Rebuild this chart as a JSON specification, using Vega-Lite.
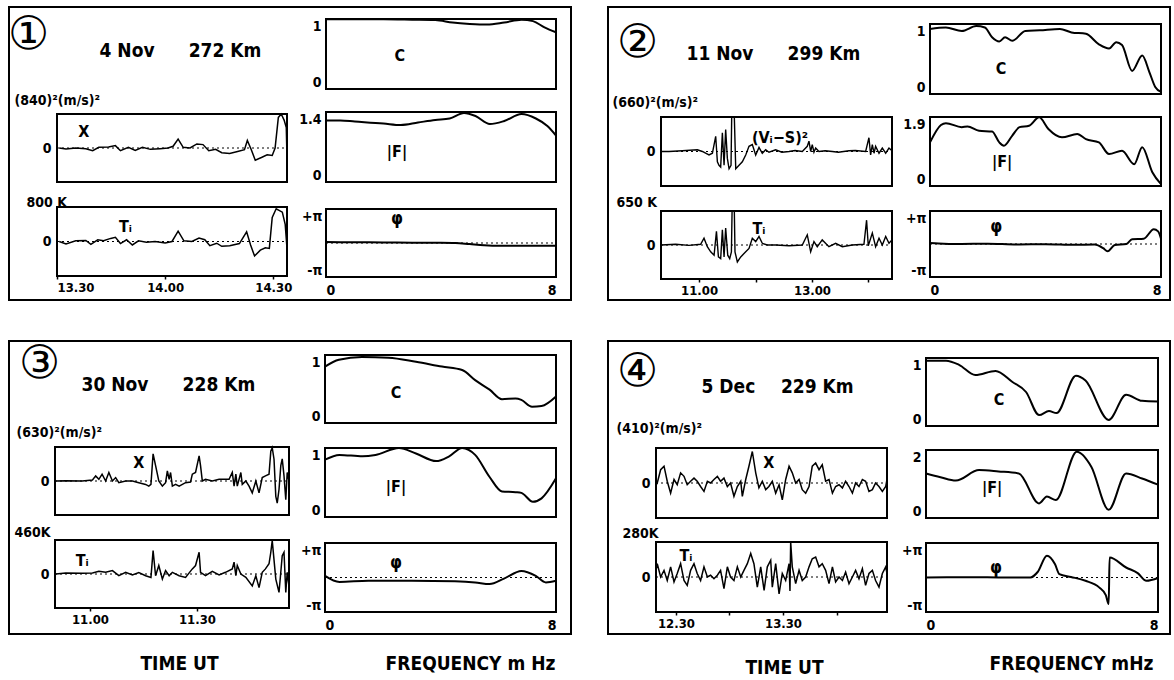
{
"$schema": "https://vega.github.io/schema/vega-lite/v6.json",
"background": "white",
"padding": {"left": 6, "top": 6, "right": 0, "bottom": 0},
"spacing": 38,
"config": {
 "view": {"stroke": "black", "strokeWidth": 2},
 "font": "DejaVu Sans",
 "axis": {"grid": false, "domain": false, "ticks": false, "labelColor": "black", "labelFont": "DejaVu Sans Condensed, DejaVu Sans", "labelFontWeight": "bold", "labelFontSize": 14, "titleColor": "black", "titleFont": "DejaVu Sans Condensed, DejaVu Sans", "titleFontWeight": "bold", "titleFontSize": 14, "tickColor": "black", "tickWidth": 1.5},
 "text": {"font": "DejaVu Sans Condensed, DejaVu Sans", "color": "black"}
},
"datasets": {
 "p1x": [{"t":810.6,"v":0},{"t":812.5,"v":-0.03},{"t":815.2,"v":0},{"t":818.0,"v":-0.02},{"t":819.9,"v":-0.08},{"t":821.6,"v":0.02},{"t":824.3,"v":0.03},{"t":826.2,"v":0.07},{"t":827.6,"v":-0.08},{"t":829.8,"v":0.02},{"t":831.7,"v":-0.07},{"t":833.7,"v":0.02},{"t":835.9,"v":-0.04},{"t":838.6,"v":-0.02},{"t":840.8,"v":0},{"t":842.2,"v":0.05},{"t":843.6,"v":0.26},{"t":845.0,"v":0.02},{"t":846.9,"v":0},{"t":848.8,"v":0.12},{"t":850.5,"v":0.1},{"t":852.1,"v":-0.08},{"t":854.0,"v":-0.04},{"t":855.7,"v":-0.14},{"t":857.9,"v":-0.16},{"t":860.1,"v":-0.1},{"t":862.0,"v":-0.05},{"t":862.8,"v":0.22},{"t":863.9,"v":-0.05},{"t":865.0,"v":-0.36},{"t":866.7,"v":-0.28},{"t":868.3,"v":-0.2},{"t":869.7,"v":-0.22},{"t":870.5,"v":0},{"t":871.4,"v":0.9},{"t":872.2,"v":1.0},{"t":873.0,"v":0.82},{"t":873.6,"v":0.6},{"t":873.8,"v":-0.3}],
 "p1t": [{"t":810.6,"v":0},{"t":812.5,"v":-0.07},{"t":815.2,"v":0.02},{"t":818.0,"v":0.03},{"t":819.4,"v":-0.08},{"t":821.3,"v":0.05},{"t":822.9,"v":0.02},{"t":824.9,"v":0.09},{"t":826.2,"v":0.12},{"t":827.6,"v":-0.06},{"t":829.3,"v":0.05},{"t":830.9,"v":-0.1},{"t":832.6,"v":0.02},{"t":834.8,"v":-0.02},{"t":837.2,"v":0},{"t":840.0,"v":-0.04},{"t":841.9,"v":0},{"t":843.6,"v":0.3},{"t":845.2,"v":0.02},{"t":847.4,"v":0},{"t":849.4,"v":0.1},{"t":851.0,"v":0.05},{"t":852.4,"v":-0.12},{"t":854.3,"v":-0.05},{"t":855.7,"v":-0.14},{"t":857.9,"v":-0.12},{"t":860.6,"v":-0.06},{"t":862.6,"v":0.28},{"t":863.7,"v":-0.1},{"t":864.8,"v":-0.42},{"t":866.4,"v":-0.25},{"t":867.8,"v":-0.18},{"t":868.9,"v":-0.2},{"t":869.7,"v":0.7},{"t":870.8,"v":0.95},{"t":872.5,"v":0.85},{"t":873.3,"v":0.5},{"t":873.8,"v":-0.2}],
 "p1c": [{"f":0,"v":0.995},{"f":1,"v":0.995},{"f":2,"v":0.995},{"f":3,"v":0.99},{"f":3.8,"v":0.985},{"f":4.4,"v":0.95},{"f":5.0,"v":0.93},{"f":5.6,"v":0.92},{"f":6.2,"v":0.95},{"f":6.8,"v":0.99},{"f":7.2,"v":0.97},{"f":7.6,"v":0.88},{"f":8,"v":0.81}],
 "p1f": [{"f":0,"v":1.23},{"f":0.5,"v":1.23},{"f":1,"v":1.21},{"f":2,"v":1.17},{"f":2.6,"v":1.14},{"f":3.2,"v":1.19},{"f":3.8,"v":1.24},{"f":4.3,"v":1.27},{"f":4.8,"v":1.38},{"f":5.2,"v":1.32},{"f":5.7,"v":1.16},{"f":6.2,"v":1.22},{"f":6.8,"v":1.36},{"f":7.3,"v":1.27},{"f":7.7,"v":1.12},{"f":8,"v":0.93}],
 "p1p": [{"f":0,"v":0.09},{"f":1,"v":0.07},{"f":2,"v":0.05},{"f":3,"v":0.03},{"f":4,"v":0.02},{"f":4.5,"v":0},{"f":5,"v":-0.1},{"f":5.5,"v":-0.2},{"f":6,"v":-0.25},{"f":6.5,"v":-0.25},{"f":7,"v":-0.25},{"f":8,"v":-0.25}],
 "p2x": [{"t":619.6,"v":0},{"t":628.1,"v":0},{"t":642.2,"v":0.02},{"t":658.2,"v":0.05},{"t":663.5,"v":0},{"t":670.6,"v":-0.1},{"t":674.2,"v":-0.05},{"t":677.7,"v":0.44},{"t":679.5,"v":-0.3},{"t":681.2,"v":-0.4},{"t":683.0,"v":-0.45},{"t":684.8,"v":0.54},{"t":686.6,"v":-0.4},{"t":688.3,"v":0.64},{"t":690.1,"v":-0.2},{"t":691.9,"v":-0.5},{"t":694.0,"v":-0.4},{"t":694.7,"v":1.0},{"t":697.5,"v":1.0},{"t":699.0,"v":-0.5},{"t":702.5,"v":-0.4},{"t":706.0,"v":-0.3},{"t":709.6,"v":-0.1},{"t":713.1,"v":0.15},{"t":716.6,"v":0.2},{"t":720.2,"v":-0.1},{"t":723.7,"v":0.12},{"t":727.2,"v":-0.05},{"t":730.8,"v":0.05},{"t":734.3,"v":-0.02},{"t":741.4,"v":0.05},{"t":748.0,"v":-0.02},{"t":755.6,"v":0},{"t":762.0,"v":0.03},{"t":769.7,"v":0},{"t":775.0,"v":0.15},{"t":776.8,"v":0.3},{"t":778.6,"v":0},{"t":780.3,"v":0.2},{"t":782.1,"v":-0.02},{"t":783.9,"v":0.1},{"t":787.4,"v":0},{"t":794.0,"v":0.02},{"t":801.6,"v":0},{"t":808.0,"v":-0.02},{"t":819.3,"v":0.02},{"t":826.0,"v":0.03},{"t":837.0,"v":0},{"t":840.5,"v":0.4},{"t":842.3,"v":-0.1},{"t":844.1,"v":0.2},{"t":845.9,"v":-0.05},{"t":847.6,"v":0.15},{"t":851.2,"v":-0.05},{"t":854.7,"v":0.1},{"t":858.3,"v":-0.05},{"t":861.8,"v":0.1},{"t":865.0,"v":0.02}],
 "p2t": [{"t":619.6,"v":0},{"t":635.2,"v":0.02},{"t":649.3,"v":-0.01},{"t":661.7,"v":0.02},{"t":665.3,"v":0.2},{"t":668.8,"v":-0.05},{"t":672.4,"v":-0.2},{"t":676.0,"v":-0.3},{"t":678.5,"v":0.4},{"t":680.6,"v":-0.35},{"t":683.0,"v":-0.4},{"t":684.8,"v":0.45},{"t":686.6,"v":-0.35},{"t":688.3,"v":0.5},{"t":690.5,"v":-0.3},{"t":692.6,"v":-0.4},{"t":694.4,"v":-0.2},{"t":695.1,"v":1.0},{"t":697.5,"v":1.0},{"t":698.2,"v":-0.2},{"t":700.7,"v":-0.5},{"t":704.3,"v":-0.35},{"t":709.6,"v":-0.2},{"t":713.1,"v":-0.1},{"t":716.6,"v":0.2},{"t":720.2,"v":0.1},{"t":723.7,"v":0.25},{"t":727.2,"v":0.05},{"t":732.5,"v":0},{"t":741.4,"v":0},{"t":755.6,"v":-0.02},{"t":769.7,"v":0},{"t":775.0,"v":0.3},{"t":778.6,"v":-0.2},{"t":782.1,"v":0.1},{"t":785.6,"v":-0.05},{"t":790.9,"v":0.15},{"t":798.0,"v":-0.05},{"t":805.1,"v":0.05},{"t":812.2,"v":-0.05},{"t":822.8,"v":0},{"t":835.2,"v":0.02},{"t":838.0,"v":0.73},{"t":839.8,"v":-0.02},{"t":844.1,"v":0.35},{"t":847.6,"v":-0.05},{"t":851.2,"v":0.2},{"t":854.7,"v":0},{"t":858.3,"v":0.25},{"t":861.8,"v":0.05},{"t":865.0,"v":0.15}],
 "p2c": [{"f":0,"v":0.93},{"f":0.55,"v":0.95},{"f":1.1,"v":0.9},{"f":1.6,"v":0.97},{"f":1.9,"v":0.95},{"f":2.15,"v":0.81},{"f":2.4,"v":0.75},{"f":2.6,"v":0.81},{"f":2.85,"v":0.76},{"f":3.3,"v":0.9},{"f":3.8,"v":0.91},{"f":4.5,"v":0.93},{"f":4.9,"v":0.88},{"f":5.4,"v":0.86},{"f":5.85,"v":0.71},{"f":6.2,"v":0.65},{"f":6.45,"v":0.74},{"f":6.65,"v":0.7},{"f":7.0,"v":0.33},{"f":7.35,"v":0.55},{"f":7.6,"v":0.31},{"f":7.8,"v":0.1},{"f":8,"v":0.03}],
 "p2f": [{"f":0,"v":1.2},{"f":0.38,"v":1.68},{"f":0.55,"v":1.73},{"f":1.1,"v":1.62},{"f":1.3,"v":1.64},{"f":1.7,"v":1.52},{"f":2.15,"v":1.5},{"f":2.4,"v":1.2},{"f":2.56,"v":1.11},{"f":2.85,"v":1.39},{"f":3.1,"v":1.62},{"f":3.43,"v":1.66},{"f":3.78,"v":1.89},{"f":4.1,"v":1.57},{"f":4.57,"v":1.34},{"f":5.1,"v":1.43},{"f":5.4,"v":1.29},{"f":5.85,"v":1.2},{"f":6.2,"v":0.88},{"f":6.65,"v":0.97},{"f":7.07,"v":0.6},{"f":7.35,"v":1.07},{"f":7.7,"v":0.38},{"f":8,"v":0.05}],
 "p2p": [{"f":0,"v":0.1},{"f":0.3,"v":0.05},{"f":1,"v":0},{"f":2,"v":0.03},{"f":3,"v":-0.05},{"f":4,"v":-0.02},{"f":5,"v":-0.08},{"f":5.7,"v":-0.05},{"f":6.0,"v":-0.4},{"f":6.15,"v":-0.7},{"f":6.4,"v":-0.1},{"f":6.8,"v":0},{"f":7.0,"v":0.45},{"f":7.4,"v":0.5},{"f":7.75,"v":1.4},{"f":7.9,"v":1.2},{"f":8,"v":0.5}],
 "p3x": [{"t":650.4,"v":0},{"t":653.2,"v":0.01},{"t":657.8,"v":0},{"t":660.7,"v":0.03},{"t":661.6,"v":0.15},{"t":662.5,"v":0.05},{"t":663.4,"v":0.2},{"t":664.4,"v":0},{"t":665.3,"v":0.25},{"t":666.3,"v":0},{"t":667.2,"v":0.1},{"t":668.1,"v":-0.05},{"t":670.0,"v":0},{"t":671.9,"v":0},{"t":673.7,"v":-0.05},{"t":675.6,"v":-0.1},{"t":676.5,"v":-0.15},{"t":677.1,"v":-0.1},{"t":677.7,"v":0.8},{"t":678.4,"v":0.45},{"t":679.3,"v":0},{"t":680.3,"v":-0.15},{"t":681.2,"v":-0.05},{"t":681.7,"v":0.3},{"t":682.2,"v":0.05},{"t":682.6,"v":0.25},{"t":683.1,"v":-0.15},{"t":684.0,"v":-0.1},{"t":685.0,"v":-0.15},{"t":686.8,"v":-0.05},{"t":688.2,"v":-0.03},{"t":688.7,"v":0.2},{"t":689.6,"v":0.25},{"t":690.6,"v":0.74},{"t":691.0,"v":0.45},{"t":691.5,"v":0},{"t":692.4,"v":0.05},{"t":694.3,"v":0},{"t":696.2,"v":0.05},{"t":698.0,"v":0.05},{"t":699.0,"v":0.05},{"t":699.9,"v":0.25},{"t":700.4,"v":-0.15},{"t":700.9,"v":0.2},{"t":701.3,"v":-0.15},{"t":702.3,"v":0.25},{"t":702.7,"v":-0.1},{"t":703.7,"v":0},{"t":704.6,"v":-0.15},{"t":705.5,"v":-0.35},{"t":706.5,"v":0},{"t":707.4,"v":-0.35},{"t":708.3,"v":0.1},{"t":709.2,"v":0.15},{"t":710.2,"v":0.2},{"t":710.7,"v":0.88},{"t":711.1,"v":0.98},{"t":711.6,"v":0.64},{"t":712.1,"v":-0.45},{"t":712.5,"v":-0.65},{"t":713.0,"v":-0.25},{"t":713.5,"v":0.45},{"t":713.9,"v":0.65},{"t":714.4,"v":0.15},{"t":714.9,"v":-0.55},{"t":715.3,"v":0.25},{"t":715.8,"v":0}],
 "p3t": [{"t":650.4,"v":0},{"t":653.2,"v":0.03},{"t":657.8,"v":0.02},{"t":660.7,"v":0.03},{"t":662.5,"v":0.08},{"t":664.4,"v":0.05},{"t":666.3,"v":0.1},{"t":668.1,"v":-0.05},{"t":670.0,"v":0.05},{"t":671.9,"v":-0.03},{"t":673.7,"v":0.04},{"t":675.6,"v":-0.05},{"t":677.1,"v":-0.1},{"t":677.7,"v":0.69},{"t":678.4,"v":-0.05},{"t":679.3,"v":0.25},{"t":680.3,"v":-0.15},{"t":681.2,"v":0.1},{"t":682.2,"v":-0.05},{"t":683.1,"v":0.05},{"t":685.0,"v":-0.05},{"t":686.8,"v":-0.1},{"t":688.7,"v":0.15},{"t":689.6,"v":0.25},{"t":690.6,"v":0.64},{"t":691.0,"v":0.05},{"t":692.4,"v":-0.05},{"t":694.3,"v":0.08},{"t":696.2,"v":-0.03},{"t":698.0,"v":0.05},{"t":699.9,"v":0.15},{"t":700.4,"v":0.35},{"t":700.9,"v":-0.05},{"t":701.3,"v":0.25},{"t":702.3,"v":0},{"t":703.7,"v":-0.1},{"t":705.5,"v":-0.35},{"t":706.5,"v":-0.05},{"t":707.4,"v":-0.4},{"t":708.3,"v":0.05},{"t":709.2,"v":0.15},{"t":710.2,"v":0.3},{"t":710.7,"v":0.64},{"t":711.1,"v":0.98},{"t":712.1,"v":-0.15},{"t":713.0,"v":-0.54},{"t":713.5,"v":0.05},{"t":713.9,"v":0.54},{"t":714.4,"v":0.64},{"t":714.9,"v":-0.54},{"t":715.3,"v":0.05},{"t":715.8,"v":-0.35}],
 "p3c": [{"f":0,"v":0.83},{"f":0.48,"v":0.93},{"f":1.28,"v":0.97},{"f":2.2,"v":0.96},{"f":3.15,"v":0.9},{"f":4.05,"v":0.83},{"f":4.75,"v":0.78},{"f":5.2,"v":0.63},{"f":5.7,"v":0.49},{"f":6.13,"v":0.35},{"f":6.6,"v":0.36},{"f":6.8,"v":0.34},{"f":7.17,"v":0.24},{"f":7.5,"v":0.25},{"f":8,"v":0.39}],
 "p3f": [{"f":0,"v":0.83},{"f":0.5,"v":0.9},{"f":1.3,"v":0.88},{"f":1.75,"v":0.9},{"f":2.56,"v":1.0},{"f":3.15,"v":0.92},{"f":3.85,"v":0.81},{"f":4.3,"v":0.88},{"f":4.75,"v":1.0},{"f":5.2,"v":0.9},{"f":5.7,"v":0.58},{"f":6.13,"v":0.37},{"f":6.6,"v":0.36},{"f":6.8,"v":0.35},{"f":7.2,"v":0.22},{"f":7.5,"v":0.27},{"f":8,"v":0.56}],
 "p3p": [{"f":0,"v":0.15},{"f":0.5,"v":-0.4},{"f":1.5,"v":-0.3},{"f":3,"v":-0.3},{"f":4.5,"v":-0.35},{"f":5.2,"v":-0.45},{"f":5.7,"v":-0.6},{"f":6.2,"v":-0.1},{"f":6.8,"v":0.6},{"f":7.3,"v":0.15},{"f":7.65,"v":-0.45},{"f":8,"v":-0.3}],
 "p4x": [{"t":738.8,"v":0.05},{"t":739.5,"v":0},{"t":741.4,"v":0.38},{"t":743.3,"v":0.48},{"t":745.1,"v":0.05},{"t":747.0,"v":-0.29},{"t":748.9,"v":0.1},{"t":750.7,"v":-0.05},{"t":752.6,"v":0.29},{"t":754.5,"v":0.19},{"t":756.3,"v":-0.05},{"t":758.2,"v":0.05},{"t":760.1,"v":0.14},{"t":761.9,"v":0.05},{"t":763.8,"v":-0.1},{"t":765.7,"v":-0.24},{"t":767.6,"v":0.05},{"t":769.4,"v":0},{"t":771.3,"v":0.1},{"t":773.2,"v":0.19},{"t":775.0,"v":0.05},{"t":776.9,"v":0.14},{"t":778.8,"v":-0.1},{"t":780.6,"v":0},{"t":782.5,"v":-0.38},{"t":784.4,"v":-0.1},{"t":786.3,"v":0.05},{"t":787.2,"v":-0.38},{"t":789.1,"v":0.1},{"t":790.9,"v":0.48},{"t":792.8,"v":0.9},{"t":794.7,"v":0.29},{"t":796.5,"v":-0.14},{"t":798.4,"v":0.05},{"t":800.3,"v":-0.19},{"t":802.1,"v":-0.1},{"t":804.0,"v":0.05},{"t":805.9,"v":-0.29},{"t":807.8,"v":-0.05},{"t":809.6,"v":-0.48},{"t":811.5,"v":0.1},{"t":813.4,"v":0.48},{"t":815.2,"v":0.29},{"t":817.1,"v":0},{"t":819.0,"v":0.1},{"t":820.8,"v":-0.19},{"t":822.7,"v":-0.29},{"t":824.6,"v":-0.1},{"t":826.4,"v":0.48},{"t":828.3,"v":0.57},{"t":830.2,"v":0.38},{"t":832.0,"v":0.52},{"t":833.9,"v":0.05},{"t":835.8,"v":0.1},{"t":837.7,"v":-0.29},{"t":839.5,"v":-0.1},{"t":841.4,"v":-0.05},{"t":843.3,"v":-0.14},{"t":845.1,"v":0.05},{"t":847.0,"v":-0.1},{"t":848.9,"v":-0.29},{"t":850.7,"v":0},{"t":852.6,"v":-0.1},{"t":854.5,"v":0.1},{"t":856.3,"v":0.05},{"t":858.2,"v":-0.24},{"t":860.1,"v":-0.19},{"t":861.9,"v":0},{"t":863.8,"v":-0.1},{"t":865.7,"v":-0.24},{"t":867.6,"v":-0.1},{"t":868.3,"v":0.1}],
 "p4t": [{"t":738.8,"v":0.2},{"t":739.5,"v":0.38},{"t":741.4,"v":0},{"t":743.3,"v":0.19},{"t":745.1,"v":-0.1},{"t":747.0,"v":0.29},{"t":748.9,"v":-0.14},{"t":750.7,"v":0.1},{"t":752.6,"v":0.38},{"t":754.5,"v":-0.1},{"t":756.3,"v":-0.24},{"t":758.2,"v":0.19},{"t":760.1,"v":0.38},{"t":761.9,"v":0.1},{"t":763.8,"v":-0.1},{"t":765.7,"v":0.29},{"t":767.6,"v":0},{"t":769.4,"v":0.05},{"t":771.3,"v":-0.05},{"t":773.2,"v":0.05},{"t":775.0,"v":0.19},{"t":776.9,"v":-0.33},{"t":778.8,"v":0.29},{"t":780.6,"v":0},{"t":782.5,"v":-0.1},{"t":784.4,"v":0.29},{"t":786.3,"v":0},{"t":788.1,"v":0.19},{"t":790.0,"v":0.38},{"t":791.9,"v":0.67},{"t":793.7,"v":0.38},{"t":795.6,"v":-0.29},{"t":797.5,"v":0.29},{"t":799.4,"v":-0.38},{"t":801.2,"v":0.29},{"t":803.1,"v":0.48},{"t":804.0,"v":-0.29},{"t":805.9,"v":0.38},{"t":807.8,"v":-0.48},{"t":809.6,"v":0.1},{"t":811.5,"v":-0.1},{"t":813.4,"v":0.38},{"t":813.9,"v":-0.4},{"t":814.3,"v":1.0},{"t":815.2,"v":0.29},{"t":817.1,"v":-0.19},{"t":819.0,"v":0.19},{"t":820.8,"v":-0.1},{"t":822.7,"v":0},{"t":824.6,"v":0.29},{"t":826.4,"v":0.52},{"t":828.3,"v":0.57},{"t":830.2,"v":0.29},{"t":832.0,"v":0.38},{"t":833.9,"v":0.19},{"t":835.8,"v":-0.19},{"t":837.7,"v":0.29},{"t":839.5,"v":-0.14},{"t":841.4,"v":0},{"t":843.3,"v":-0.1},{"t":845.1,"v":0.14},{"t":847.0,"v":-0.19},{"t":848.9,"v":0},{"t":850.7,"v":0.19},{"t":852.6,"v":-0.05},{"t":854.5,"v":0.24},{"t":856.3,"v":-0.24},{"t":858.2,"v":0.1},{"t":860.1,"v":0.19},{"t":861.9,"v":-0.1},{"t":863.8,"v":-0.29},{"t":865.7,"v":0.1},{"t":867.6,"v":0.29},{"t":868.3,"v":0.1}],
 "p4c": [{"f":0,"v":0.96},{"f":0.69,"v":0.96},{"f":1.14,"v":0.9},{"f":1.7,"v":0.75},{"f":2.4,"v":0.81},{"f":2.97,"v":0.65},{"f":3.45,"v":0.5},{"f":3.9,"v":0.16},{"f":4.24,"v":0.22},{"f":4.5,"v":0.19},{"f":5.17,"v":0.74},{"f":5.5,"v":0.67},{"f":6.3,"v":0.09},{"f":6.9,"v":0.46},{"f":7.45,"v":0.37},{"f":8,"v":0.36}],
 "p4f": [{"f":0,"v":1.31},{"f":0.5,"v":1.2},{"f":1.03,"v":1.1},{"f":1.83,"v":1.41},{"f":2.5,"v":1.37},{"f":3.2,"v":1.31},{"f":3.9,"v":0.43},{"f":4.17,"v":0.63},{"f":4.48,"v":0.53},{"f":5.2,"v":1.95},{"f":5.7,"v":1.51},{"f":6.3,"v":0.24},{"f":6.9,"v":1.31},{"f":7.45,"v":1.16},{"f":8,"v":0.98}],
 "p4p": [{"f":0,"v":0},{"f":1,"v":0.02},{"f":2,"v":0.02},{"f":3,"v":0},{"f":3.6,"v":0},{"f":3.85,"v":0.5},{"f":4.17,"v":1.98},{"f":4.45,"v":1.2},{"f":4.6,"v":0.3},{"f":5.0,"v":0.05},{"f":5.5,"v":-0.3},{"f":5.97,"v":-0.9},{"f":6.2,"v":-1.6},{"f":6.3,"v":-2.42},{"f":6.33,"v":1.82},{"f":6.9,"v":0.91},{"f":7.3,"v":0.4},{"f":7.6,"v":-0.3},{"f":8,"v":-0.05}]
},
"vconcat": [
{"spacing": 35, "hconcat": [
{
 "width": 562, "height": 293,
 "data": {"values": [{}]},
 "resolve": {"scale": {"x": "independent", "y": "independent"}},
 "layer": [
  {"layer": [
   {"data": {"name": "p1x"}, "mark": {"type": "line", "color": "black", "strokeWidth": 1.5},
    "encoding": {
     "x": {"field": "t", "type": "quantitative", "scale": {"domain": [810, 873.8], "range": [48, 278], "nice": false, "zero": false},
      "axis": {"orient": "top", "offset": 0, "labels": false, "title": "4 Nov\u2003\u2003272 Km", "titleX": 90, "titleY": 49, "titleAlign": "left", "titleBaseline": "alphabetic", "titleFontSize": 19, "titleFontWeight": "bold"}},
     "y": {"field": "v", "type": "quantitative", "scale": {"domain": [-1, 1], "range": [175, 107], "nice": false, "zero": false},
      "axis": {"orient": "left", "offset": -48, "values": [0], "labelExpr": "'' + datum.value", "labelPadding": 6, "title": "(840)²(m/s)²", "titleX": -43, "titleY": 93, "titleAngle": 0, "titleAlign": "left", "titleBaseline": "middle"}}}},
   {"mark": {"type": "rule", "color": "black", "strokeWidth": 1, "strokeDash": [2, 3]}, "encoding": {"x": {"datum": 810}, "x2": {"datum": 873.8}, "y": {"datum": 0}}},
   {"mark": {"type": "rect", "fillOpacity": 0, "stroke": "black", "strokeWidth": 2}, "encoding": {"x": {"datum": 810}, "x2": {"datum": 873.8}, "y": {"datum": -1}, "y2": {"datum": 1}}},
   {"mark": {"type": "text", "fontSize": 16, "fontWeight": "bold"}, "encoding": {"x": {"datum": 817.4}, "y": {"datum": 0.47}, "text": {"value": "X"}}}
  ]},
  {"layer": [
   {"data": {"name": "p1t"}, "mark": {"type": "line", "color": "black", "strokeWidth": 1.5},
    "encoding": {
     "x": {"field": "t", "type": "quantitative", "scale": {"domain": [810, 873.8], "range": [48, 278], "nice": false, "zero": false},
      "axis": {"orient": "bottom", "offset": -24, "values": [810, 840, 870], "ticks": true, "tickSize": 3, "labelPadding": 2, "labelFontSize": 13, "labelExpr": "floor(datum.value/60) + '.' + (datum.value % 60 < 10 ? '0' : '') + (datum.value % 60)", "title": null}},
     "y": {"field": "v", "type": "quantitative", "scale": {"domain": [-1, 1], "range": [269, 200], "nice": false, "zero": false},
      "axis": {"orient": "left", "offset": -48, "values": [0], "labelExpr": "'' + datum.value", "labelPadding": 6, "title": "800 K", "titleX": -31, "titleY": 195, "titleAngle": 0, "titleAlign": "left", "titleBaseline": "middle"}}}},
   {"mark": {"type": "rule", "color": "black", "strokeWidth": 1, "strokeDash": [2, 3]}, "encoding": {"x": {"datum": 810}, "x2": {"datum": 873.8}, "y": {"datum": 0}}},
   {"mark": {"type": "rect", "fillOpacity": 0, "stroke": "black", "strokeWidth": 2}, "encoding": {"x": {"datum": 810}, "x2": {"datum": 873.8}, "y": {"datum": -1}, "y2": {"datum": 1}}},
   {"mark": {"type": "text", "fontSize": 16, "fontWeight": "bold"}, "encoding": {"x": {"datum": 829}, "y": {"datum": 0.42}, "text": {"value": "Tᵢ"}}}
  ]},
  {"layer": [
   {"data": {"name": "p1c"}, "mark": {"type": "line", "color": "black", "strokeWidth": 2, "interpolate": "monotone"},
    "encoding": {
     "x": {"field": "f", "type": "quantitative", "scale": {"domain": [0, 8], "range": [317, 547], "nice": false, "zero": false},
      "axis": {"orient": "top", "offset": 0, "labels": false, "title": "①", "titleX": 19, "titleY": 27, "titleAlign": "center", "titleBaseline": "middle", "titleFontSize": 46, "titleFontWeight": "normal", "titleFont": "DejaVu Sans"}},
     "y": {"field": "v", "type": "quantitative", "scale": {"domain": [0, 1], "range": [82, 12], "nice": false, "zero": false},
      "axis": {"orient": "left", "offset": -317, "values": [0, 1], "labelFlush": true, "labelPadding": 5, "labelExpr": "'' + datum.value", "title": null}}}},
   {"mark": {"type": "rect", "fillOpacity": 0, "stroke": "black", "strokeWidth": 2}, "encoding": {"x": {"datum": 0}, "x2": {"datum": 8}, "y": {"datum": 0}, "y2": {"datum": 1}}},
   {"mark": {"type": "text", "fontSize": 16, "fontWeight": "bold"}, "encoding": {"x": {"datum": 2.57}, "y": {"datum": 0.47}, "text": {"value": "C"}}}
  ]},
  {"layer": [
   {"data": {"name": "p1f"}, "mark": {"type": "line", "color": "black", "strokeWidth": 2, "interpolate": "monotone"},
    "encoding": {
     "x": {"field": "f", "type": "quantitative", "scale": {"domain": [0, 8], "range": [317, 547], "nice": false, "zero": false}, "axis": null},
     "y": {"field": "v", "type": "quantitative", "scale": {"domain": [0, 1.4], "range": [175, 105], "nice": false, "zero": false},
      "axis": {"orient": "left", "offset": -317, "values": [0, 1.4], "labelFlush": true, "labelPadding": 5, "labelExpr": "'' + datum.value", "title": null}}}},
   {"mark": {"type": "rect", "fillOpacity": 0, "stroke": "black", "strokeWidth": 2}, "encoding": {"x": {"datum": 0}, "x2": {"datum": 8}, "y": {"datum": 0}, "y2": {"datum": 1.4}}},
   {"mark": {"type": "text", "fontSize": 16, "fontWeight": "bold"}, "encoding": {"x": {"datum": 2.47}, "y": {"datum": 0.6}, "text": {"value": "|F|"}}}
  ]},
  {"layer": [
   {"data": {"name": "p1p"}, "mark": {"type": "line", "color": "black", "strokeWidth": 2, "interpolate": "monotone"},
    "encoding": {
     "x": {"field": "f", "type": "quantitative", "scale": {"domain": [0, 8], "range": [317, 547], "nice": false, "zero": false},
      "axis": {"orient": "bottom", "offset": -23, "values": [0, 8], "labelFlush": true, "labelPadding": 6, "labelExpr": "'' + datum.value", "title": null}},
     "y": {"field": "v", "type": "quantitative", "scale": {"domain": [-3.1416, 3.1416], "range": [270, 202], "nice": false, "zero": false},
      "axis": {"orient": "left", "offset": -317, "values": [-3.1416, 3.1416], "labelFlush": true, "labelPadding": 4, "labelExpr": "datum.value > 0 ? '+π' : '-π'", "title": null}}}},
   {"mark": {"type": "rule", "color": "black", "strokeWidth": 1, "strokeDash": [2, 3]}, "encoding": {"x": {"datum": 0}, "x2": {"datum": 8}, "y": {"datum": 0}}},
   {"mark": {"type": "rect", "fillOpacity": 0, "stroke": "black", "strokeWidth": 2}, "encoding": {"x": {"datum": 0}, "x2": {"datum": 8}, "y": {"datum": -3.1416}, "y2": {"datum": 3.1416}}},
   {"mark": {"type": "text", "fontSize": 17, "fontWeight": "bold"}, "encoding": {"x": {"datum": 2.47}, "y": {"datum": 2.2}, "text": {"value": "φ"}}}
  ]}
 ]
},
{
 "width": 562, "height": 293,
 "data": {"values": [{}]},
 "resolve": {"scale": {"x": "independent", "y": "independent"}},
 "layer": [
  {"layer": [
   {"data": {"name": "p2x"}, "mark": {"type": "line", "color": "black", "strokeWidth": 1.4},
    "encoding": {
     "x": {"field": "t", "type": "quantitative", "scale": {"domain": [619.6, 865.0], "range": [53, 284], "nice": false, "zero": false},
      "axis": {"orient": "top", "offset": 0, "labels": false, "title": "11 Nov\u2003\u2003299 Km", "titleX": 78, "titleY": 52, "titleAlign": "left", "titleBaseline": "alphabetic", "titleFontSize": 19, "titleFontWeight": "bold"}},
     "y": {"field": "v", "type": "quantitative", "scale": {"domain": [-1, 1], "range": [179, 110], "nice": false, "zero": false},
      "axis": {"orient": "left", "offset": -53, "values": [0], "labelExpr": "'' + datum.value", "labelPadding": 6, "title": "(660)²(m/s)²", "titleX": -49, "titleY": 95, "titleAngle": 0, "titleAlign": "left", "titleBaseline": "middle"}}}},
   {"mark": {"type": "rule", "color": "black", "strokeWidth": 1, "strokeDash": [2, 3]}, "encoding": {"x": {"datum": 619.6}, "x2": {"datum": 865.0}, "y": {"datum": 0}}},
   {"mark": {"type": "rect", "fillOpacity": 0, "stroke": "black", "strokeWidth": 2}, "encoding": {"x": {"datum": 619.6}, "x2": {"datum": 865.0}, "y": {"datum": -1}, "y2": {"datum": 1}}},
   {"mark": {"type": "text", "fontSize": 16, "fontWeight": "bold"}, "encoding": {"x": {"datum": 746}, "y": {"datum": 0.38}, "text": {"value": "(Vᵢ−S)²"}}}
  ]},
  {"layer": [
   {"data": {"name": "p2t"}, "mark": {"type": "line", "color": "black", "strokeWidth": 1.4},
    "encoding": {
     "x": {"field": "t", "type": "quantitative", "scale": {"domain": [619.6, 865.0], "range": [53, 284], "nice": false, "zero": false},
      "axis": {"orient": "bottom", "offset": -21, "values": [660, 720, 780, 840], "ticks": true, "tickSize": 3, "labelPadding": 2, "labelFontSize": 13, "labelExpr": "(datum.value == 720 || datum.value == 840) ? '' : floor(datum.value/60) + '.' + (datum.value % 60 < 10 ? '0' : '') + (datum.value % 60)", "title": null}},
     "y": {"field": "v", "type": "quantitative", "scale": {"domain": [-1, 1], "range": [272, 204], "nice": false, "zero": false},
      "axis": {"orient": "left", "offset": -53, "values": [0], "labelExpr": "'' + datum.value", "labelPadding": 6, "title": "650 K", "titleX": -45, "titleY": 195, "titleAngle": 0, "titleAlign": "left", "titleBaseline": "middle"}}}},
   {"mark": {"type": "rule", "color": "black", "strokeWidth": 1, "strokeDash": [2, 3]}, "encoding": {"x": {"datum": 619.6}, "x2": {"datum": 865.0}, "y": {"datum": 0}}},
   {"mark": {"type": "rect", "fillOpacity": 0, "stroke": "black", "strokeWidth": 2}, "encoding": {"x": {"datum": 619.6}, "x2": {"datum": 865.0}, "y": {"datum": -1}, "y2": {"datum": 1}}},
   {"mark": {"type": "text", "fontSize": 16, "fontWeight": "bold"}, "encoding": {"x": {"datum": 723.7}, "y": {"datum": 0.47}, "text": {"value": "Tᵢ"}}}
  ]},
  {"layer": [
   {"data": {"name": "p2c"}, "mark": {"type": "line", "color": "black", "strokeWidth": 2, "interpolate": "monotone"},
    "encoding": {
     "x": {"field": "f", "type": "quantitative", "scale": {"domain": [0, 8], "range": [322, 553], "nice": false, "zero": false},
      "axis": {"orient": "top", "offset": 0, "labels": false, "title": "②", "titleX": 29, "titleY": 35, "titleAlign": "center", "titleBaseline": "middle", "titleFontSize": 46, "titleFontWeight": "normal", "titleFont": "DejaVu Sans"}},
     "y": {"field": "v", "type": "quantitative", "scale": {"domain": [0, 1], "range": [87, 17], "nice": false, "zero": false},
      "axis": {"orient": "left", "offset": -322, "values": [0, 1], "labelFlush": true, "labelPadding": 5, "labelExpr": "'' + datum.value", "title": null}}}},
   {"mark": {"type": "rect", "fillOpacity": 0, "stroke": "black", "strokeWidth": 2}, "encoding": {"x": {"datum": 0}, "x2": {"datum": 8}, "y": {"datum": 0}, "y2": {"datum": 1}}},
   {"mark": {"type": "text", "fontSize": 16, "fontWeight": "bold"}, "encoding": {"x": {"datum": 2.46}, "y": {"datum": 0.36}, "text": {"value": "C"}}}
  ]},
  {"layer": [
   {"data": {"name": "p2f"}, "mark": {"type": "line", "color": "black", "strokeWidth": 2, "interpolate": "monotone"},
    "encoding": {
     "x": {"field": "f", "type": "quantitative", "scale": {"domain": [0, 8], "range": [322, 553], "nice": false, "zero": false}, "axis": null},
     "y": {"field": "v", "type": "quantitative", "scale": {"domain": [0, 1.9], "range": [179, 110], "nice": false, "zero": false},
      "axis": {"orient": "left", "offset": -322, "values": [0, 1.9], "labelFlush": true, "labelPadding": 5, "labelExpr": "'' + datum.value", "title": null}}}},
   {"mark": {"type": "rect", "fillOpacity": 0, "stroke": "black", "strokeWidth": 2}, "encoding": {"x": {"datum": 0}, "x2": {"datum": 8}, "y": {"datum": 0}, "y2": {"datum": 1.9}}},
   {"mark": {"type": "text", "fontSize": 16, "fontWeight": "bold"}, "encoding": {"x": {"datum": 2.5}, "y": {"datum": 0.66}, "text": {"value": "|F|"}}}
  ]},
  {"layer": [
   {"data": {"name": "p2p"}, "mark": {"type": "line", "color": "black", "strokeWidth": 2, "interpolate": "monotone"},
    "encoding": {
     "x": {"field": "f", "type": "quantitative", "scale": {"domain": [0, 8], "range": [322, 553], "nice": false, "zero": false},
      "axis": {"orient": "bottom", "offset": -23, "values": [0, 8], "labelFlush": true, "labelPadding": 6, "labelExpr": "'' + datum.value", "title": null}},
     "y": {"field": "v", "type": "quantitative", "scale": {"domain": [-3.1416, 3.1416], "range": [270, 204], "nice": false, "zero": false},
      "axis": {"orient": "left", "offset": -322, "values": [-3.1416, 3.1416], "labelFlush": true, "labelPadding": 4, "labelExpr": "datum.value > 0 ? '+π' : '-π'", "title": null}}}},
   {"mark": {"type": "rule", "color": "black", "strokeWidth": 1, "strokeDash": [2, 3]}, "encoding": {"x": {"datum": 0}, "x2": {"datum": 8}, "y": {"datum": 0}}},
   {"mark": {"type": "rect", "fillOpacity": 0, "stroke": "black", "strokeWidth": 2}, "encoding": {"x": {"datum": 0}, "x2": {"datum": 8}, "y": {"datum": -3.1416}, "y2": {"datum": 3.1416}}},
   {"mark": {"type": "text", "fontSize": 17, "fontWeight": "bold"}, "encoding": {"x": {"datum": 2.29}, "y": {"datum": 1.62}, "text": {"value": "φ"}}}
  ]}
 ]
}
]},
{"spacing": 35, "hconcat": [
{
 "width": 562, "height": 293,
 "data": {"values": [{}]},
 "resolve": {"scale": {"x": "independent", "y": "independent"}},
 "layer": [
  {"layer": [
   {"data": {"name": "p3x"}, "mark": {"type": "line", "color": "black", "strokeWidth": 1.5},
    "encoding": {
     "x": {"field": "t", "type": "quantitative", "scale": {"domain": [650.2, 715.8], "range": [46, 280], "nice": false, "zero": false},
      "axis": {"orient": "top", "offset": 0, "labels": false, "title": "30 Nov\u2003\u2003228 Km", "titleX": 72, "titleY": 49, "titleAlign": "left", "titleBaseline": "alphabetic", "titleFontSize": 19, "titleFontWeight": "bold"}},
     "y": {"field": "v", "type": "quantitative", "scale": {"domain": [-1, 1], "range": [174, 106], "nice": false, "zero": false},
      "axis": {"orient": "left", "offset": -46, "values": [0], "labelExpr": "'' + datum.value", "labelPadding": 6, "title": "(630)²(m/s)²", "titleX": -39, "titleY": 91, "titleAngle": 0, "titleAlign": "left", "titleBaseline": "middle"}}}},
   {"mark": {"type": "rule", "color": "black", "strokeWidth": 1, "strokeDash": [2, 3]}, "encoding": {"x": {"datum": 650.2}, "x2": {"datum": 715.8}, "y": {"datum": 0}}},
   {"mark": {"type": "rect", "fillOpacity": 0, "stroke": "black", "strokeWidth": 2}, "encoding": {"x": {"datum": 650.2}, "x2": {"datum": 715.8}, "y": {"datum": -1}, "y2": {"datum": 1}}},
   {"mark": {"type": "text", "fontSize": 16, "fontWeight": "bold"}, "encoding": {"x": {"datum": 673.7}, "y": {"datum": 0.53}, "text": {"value": "X"}}}
  ]},
  {"layer": [
   {"data": {"name": "p3t"}, "mark": {"type": "line", "color": "black", "strokeWidth": 1.5},
    "encoding": {
     "x": {"field": "t", "type": "quantitative", "scale": {"domain": [650.2, 715.8], "range": [46, 280], "nice": false, "zero": false},
      "axis": {"orient": "bottom", "offset": -26, "values": [660, 690], "ticks": true, "tickSize": 3, "labelPadding": 2, "labelFontSize": 13, "labelExpr": "floor(datum.value/60) + '.' + (datum.value % 60 < 10 ? '0' : '') + (datum.value % 60)", "title": "TIME UT", "titleX": 170, "titleY": 55, "titleAlign": "center", "titleBaseline": "middle", "titleFontSize": 19, "titleFontWeight": "bold"}},
     "y": {"field": "v", "type": "quantitative", "scale": {"domain": [-1, 1], "range": [267, 199], "nice": false, "zero": false},
      "axis": {"orient": "left", "offset": -46, "values": [0], "labelExpr": "'' + datum.value", "labelPadding": 6, "title": "460K", "titleX": -41, "titleY": 191, "titleAngle": 0, "titleAlign": "left", "titleBaseline": "middle"}}}},
   {"mark": {"type": "rule", "color": "black", "strokeWidth": 1, "strokeDash": [2, 3]}, "encoding": {"x": {"datum": 650.2}, "x2": {"datum": 715.8}, "y": {"datum": 0}}},
   {"mark": {"type": "rect", "fillOpacity": 0, "stroke": "black", "strokeWidth": 2}, "encoding": {"x": {"datum": 650.2}, "x2": {"datum": 715.8}, "y": {"datum": -1}, "y2": {"datum": 1}}},
   {"mark": {"type": "text", "fontSize": 16, "fontWeight": "bold"}, "encoding": {"x": {"datum": 657.8}, "y": {"datum": 0.38}, "text": {"value": "Tᵢ"}}}
  ]},
  {"layer": [
   {"data": {"name": "p3c"}, "mark": {"type": "line", "color": "black", "strokeWidth": 2, "interpolate": "monotone"},
    "encoding": {
     "x": {"field": "f", "type": "quantitative", "scale": {"domain": [0, 8], "range": [316, 547], "nice": false, "zero": false},
      "axis": {"orient": "top", "offset": 0, "labels": false, "title": "③", "titleX": 30, "titleY": 22, "titleAlign": "center", "titleBaseline": "middle", "titleFontSize": 46, "titleFontWeight": "normal", "titleFont": "DejaVu Sans"}},
     "y": {"field": "v", "type": "quantitative", "scale": {"domain": [0, 1], "range": [82, 14], "nice": false, "zero": false},
      "axis": {"orient": "left", "offset": -316, "values": [0, 1], "labelFlush": true, "labelPadding": 5, "labelExpr": "'' + datum.value", "title": null}}}},
   {"mark": {"type": "rect", "fillOpacity": 0, "stroke": "black", "strokeWidth": 2}, "encoding": {"x": {"datum": 0}, "x2": {"datum": 8}, "y": {"datum": 0}, "y2": {"datum": 1}}},
   {"mark": {"type": "text", "fontSize": 16, "fontWeight": "bold"}, "encoding": {"x": {"datum": 2.46}, "y": {"datum": 0.44}, "text": {"value": "C"}}}
  ]},
  {"layer": [
   {"data": {"name": "p3f"}, "mark": {"type": "line", "color": "black", "strokeWidth": 2, "interpolate": "monotone"},
    "encoding": {
     "x": {"field": "f", "type": "quantitative", "scale": {"domain": [0, 8], "range": [316, 547], "nice": false, "zero": false}, "axis": null},
     "y": {"field": "v", "type": "quantitative", "scale": {"domain": [0, 1], "range": [176, 107], "nice": false, "zero": false},
      "axis": {"orient": "left", "offset": -316, "values": [0, 1], "labelFlush": true, "labelPadding": 5, "labelExpr": "'' + datum.value", "title": null}}}},
   {"mark": {"type": "rect", "fillOpacity": 0, "stroke": "black", "strokeWidth": 2}, "encoding": {"x": {"datum": 0}, "x2": {"datum": 8}, "y": {"datum": 0}, "y2": {"datum": 1}}},
   {"mark": {"type": "text", "fontSize": 16, "fontWeight": "bold"}, "encoding": {"x": {"datum": 2.46}, "y": {"datum": 0.43}, "text": {"value": "|F|"}}}
  ]},
  {"layer": [
   {"data": {"name": "p3p"}, "mark": {"type": "line", "color": "black", "strokeWidth": 2, "interpolate": "monotone"},
    "encoding": {
     "x": {"field": "f", "type": "quantitative", "scale": {"domain": [0, 8], "range": [316, 547], "nice": false, "zero": false},
      "axis": {"orient": "bottom", "offset": -22, "values": [0, 8], "labelFlush": true, "labelPadding": 6, "labelExpr": "'' + datum.value", "title": "FREQUENCY m Hz", "titleX": 461, "titleY": 51, "titleAlign": "center", "titleBaseline": "middle", "titleFontSize": 19, "titleFontWeight": "bold"}},
     "y": {"field": "v", "type": "quantitative", "scale": {"domain": [-3.1416, 3.1416], "range": [271, 202], "nice": false, "zero": false},
      "axis": {"orient": "left", "offset": -316, "values": [-3.1416, 3.1416], "labelFlush": true, "labelPadding": 4, "labelExpr": "datum.value > 0 ? '+π' : '-π'", "title": null}}}},
   {"mark": {"type": "rule", "color": "black", "strokeWidth": 1, "strokeDash": [2, 3]}, "encoding": {"x": {"datum": 0}, "x2": {"datum": 8}, "y": {"datum": 0}}},
   {"mark": {"type": "rect", "fillOpacity": 0, "stroke": "black", "strokeWidth": 2}, "encoding": {"x": {"datum": 0}, "x2": {"datum": 8}, "y": {"datum": -3.1416}, "y2": {"datum": 3.1416}}},
   {"mark": {"type": "text", "fontSize": 17, "fontWeight": "bold"}, "encoding": {"x": {"datum": 2.46}, "y": {"datum": 1.32}, "text": {"value": "φ"}}}
  ]}
 ]
},
{
 "width": 562, "height": 293,
 "data": {"values": [{}]},
 "resolve": {"scale": {"x": "independent", "y": "independent"}},
 "layer": [
  {"layer": [
   {"data": {"name": "p4x"}, "mark": {"type": "line", "color": "black", "strokeWidth": 1.5},
    "encoding": {
     "x": {"field": "t", "type": "quantitative", "scale": {"domain": [738.8, 868.3], "range": [48, 279], "nice": false, "zero": false},
      "axis": {"orient": "top", "offset": 0, "labels": false, "title": "5 Dec\u2003\u2002229 Km", "titleX": 93, "titleY": 51, "titleAlign": "left", "titleBaseline": "alphabetic", "titleFontSize": 19, "titleFontWeight": "bold"}},
     "y": {"field": "v", "type": "quantitative", "scale": {"domain": [-1, 1], "range": [177, 107], "nice": false, "zero": false},
      "axis": {"orient": "left", "offset": -48, "values": [0], "labelExpr": "'' + datum.value", "labelPadding": 6, "title": "(410)²(m/s)²", "titleX": -40, "titleY": 87, "titleAngle": 0, "titleAlign": "left", "titleBaseline": "middle"}}}},
   {"mark": {"type": "rule", "color": "black", "strokeWidth": 1, "strokeDash": [2, 3]}, "encoding": {"x": {"datum": 738.8}, "x2": {"datum": 868.3}, "y": {"datum": 0}}},
   {"mark": {"type": "rect", "fillOpacity": 0, "stroke": "black", "strokeWidth": 2}, "encoding": {"x": {"datum": 738.8}, "x2": {"datum": 868.3}, "y": {"datum": -1}, "y2": {"datum": 1}}},
   {"mark": {"type": "text", "fontSize": 16, "fontWeight": "bold"}, "encoding": {"x": {"datum": 802.1}, "y": {"datum": 0.57}, "text": {"value": "X"}}}
  ]},
  {"layer": [
   {"data": {"name": "p4t"}, "mark": {"type": "line", "color": "black", "strokeWidth": 1.5},
    "encoding": {
     "x": {"field": "t", "type": "quantitative", "scale": {"domain": [738.8, 868.3], "range": [48, 279], "nice": false, "zero": false},
      "axis": {"orient": "bottom", "offset": -22, "values": [750, 780, 810, 840], "ticks": true, "tickSize": 3, "labelPadding": 2, "labelFontSize": 13, "labelExpr": "(datum.value == 780 || datum.value == 840) ? '' : floor(datum.value/60) + '.' + (datum.value % 60 < 10 ? '0' : '') + (datum.value % 60)", "title": "TIME UT", "titleX": 176, "titleY": 55, "titleAlign": "center", "titleBaseline": "middle", "titleFontSize": 19, "titleFontWeight": "bold"}},
     "y": {"field": "v", "type": "quantitative", "scale": {"domain": [-1, 1], "range": [271, 201], "nice": false, "zero": false},
      "axis": {"orient": "left", "offset": -48, "values": [0], "labelExpr": "'' + datum.value", "labelPadding": 6, "title": "280K", "titleX": -34, "titleY": 192, "titleAngle": 0, "titleAlign": "left", "titleBaseline": "middle"}}}},
   {"mark": {"type": "rule", "color": "black", "strokeWidth": 1, "strokeDash": [2, 3]}, "encoding": {"x": {"datum": 738.8}, "x2": {"datum": 868.3}, "y": {"datum": 0}}},
   {"mark": {"type": "rect", "fillOpacity": 0, "stroke": "black", "strokeWidth": 2}, "encoding": {"x": {"datum": 738.8}, "x2": {"datum": 868.3}, "y": {"datum": -1}, "y2": {"datum": 1}}},
   {"mark": {"type": "text", "fontSize": 16, "fontWeight": "bold"}, "encoding": {"x": {"datum": 755.6}, "y": {"datum": 0.6}, "text": {"value": "Tᵢ"}}}
  ]},
  {"layer": [
   {"data": {"name": "p4c"}, "mark": {"type": "line", "color": "black", "strokeWidth": 2, "interpolate": "monotone"},
    "encoding": {
     "x": {"field": "f", "type": "quantitative", "scale": {"domain": [0, 8], "range": [318, 550], "nice": false, "zero": false},
      "axis": {"orient": "top", "offset": 0, "labels": false, "title": "④", "titleX": 29, "titleY": 30, "titleAlign": "center", "titleBaseline": "middle", "titleFontSize": 46, "titleFontWeight": "normal", "titleFont": "DejaVu Sans"}},
     "y": {"field": "v", "type": "quantitative", "scale": {"domain": [0, 1], "range": [85, 17], "nice": false, "zero": false},
      "axis": {"orient": "left", "offset": -318, "values": [0, 1], "labelFlush": true, "labelPadding": 5, "labelExpr": "'' + datum.value", "title": null}}}},
   {"mark": {"type": "rect", "fillOpacity": 0, "stroke": "black", "strokeWidth": 2}, "encoding": {"x": {"datum": 0}, "x2": {"datum": 8}, "y": {"datum": 0}, "y2": {"datum": 1}}},
   {"mark": {"type": "text", "fontSize": 16, "fontWeight": "bold"}, "encoding": {"x": {"datum": 2.52}, "y": {"datum": 0.38}, "text": {"value": "C"}}}
  ]},
  {"layer": [
   {"data": {"name": "p4f"}, "mark": {"type": "line", "color": "black", "strokeWidth": 2, "interpolate": "monotone"},
    "encoding": {
     "x": {"field": "f", "type": "quantitative", "scale": {"domain": [0, 8], "range": [318, 550], "nice": false, "zero": false}, "axis": null},
     "y": {"field": "v", "type": "quantitative", "scale": {"domain": [0, 2], "range": [177, 109], "nice": false, "zero": false},
      "axis": {"orient": "left", "offset": -318, "values": [0, 2], "labelFlush": true, "labelPadding": 5, "labelExpr": "'' + datum.value", "title": null}}}},
   {"mark": {"type": "rect", "fillOpacity": 0, "stroke": "black", "strokeWidth": 2}, "encoding": {"x": {"datum": 0}, "x2": {"datum": 8}, "y": {"datum": 0}, "y2": {"datum": 2}}},
   {"mark": {"type": "text", "fontSize": 16, "fontWeight": "bold"}, "encoding": {"x": {"datum": 2.28}, "y": {"datum": 0.88}, "text": {"value": "|F|"}}}
  ]},
  {"layer": [
   {"data": {"name": "p4p"}, "mark": {"type": "line", "color": "black", "strokeWidth": 2, "interpolate": "monotone"},
    "encoding": {
     "x": {"field": "f", "type": "quantitative", "scale": {"domain": [0, 8], "range": [318, 550], "nice": false, "zero": false},
      "axis": {"orient": "bottom", "offset": -22, "values": [0, 8], "labelFlush": true, "labelPadding": 6, "labelExpr": "'' + datum.value", "title": "FREQUENCY mHz", "titleX": 463, "titleY": 51, "titleAlign": "center", "titleBaseline": "middle", "titleFontSize": 19, "titleFontWeight": "bold"}},
     "y": {"field": "v", "type": "quantitative", "scale": {"domain": [-3.1416, 3.1416], "range": [271, 202], "nice": false, "zero": false},
      "axis": {"orient": "left", "offset": -318, "values": [-3.1416, 3.1416], "labelFlush": true, "labelPadding": 4, "labelExpr": "datum.value > 0 ? '+π' : '-π'", "title": null}}}},
   {"mark": {"type": "rule", "color": "black", "strokeWidth": 1, "strokeDash": [2, 3]}, "encoding": {"x": {"datum": 0}, "x2": {"datum": 8}, "y": {"datum": 0}}},
   {"mark": {"type": "rect", "fillOpacity": 0, "stroke": "black", "strokeWidth": 2}, "encoding": {"x": {"datum": 0}, "x2": {"datum": 8}, "y": {"datum": -3.1416}, "y2": {"datum": 3.1416}}},
   {"mark": {"type": "text", "fontSize": 17, "fontWeight": "bold"}, "encoding": {"x": {"datum": 2.41}, "y": {"datum": 0.88}, "text": {"value": "φ"}}}
  ]}
 ]
}
]}
]
}
